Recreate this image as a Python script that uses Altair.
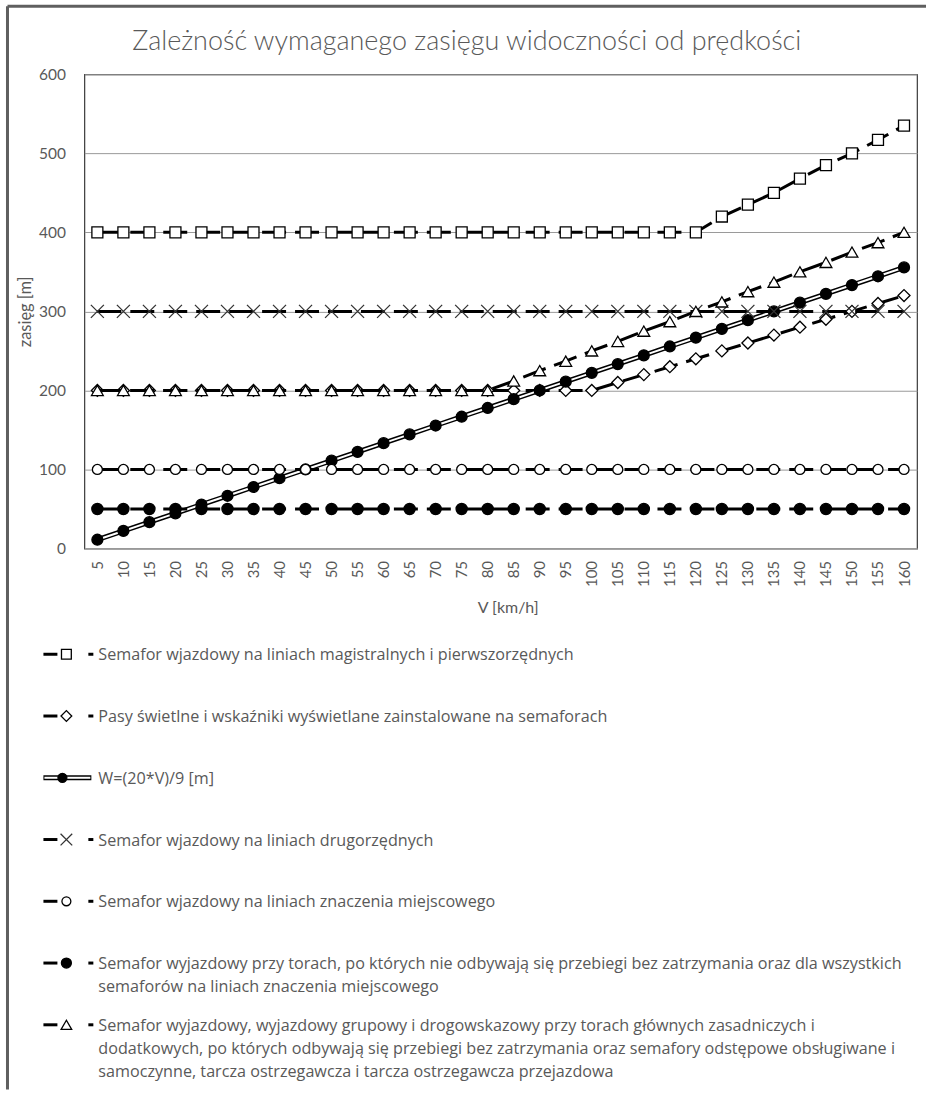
import altair as alt
import pandas as pd

TITLE = "Zależność wymaganego zasięgu widoczności od prędkości"
X_TITLE = "V [km/h]"
Y_TITLE = "zasięg [m]"
Y_TICKS = [0, 100, 200, 300, 400, 500, 600]

V = [5, 10, 15, 20, 25, 30, 35, 40, 45, 50, 55, 60, 65, 70, 75, 80,
     85, 90, 95, 100, 105, 110, 115, 120, 125, 130, 135, 140, 145, 150, 155, 160]

S_MAGISTRAL = [400, 400, 400, 400, 400, 400, 400, 400, 400, 400, 400, 400, 400, 400, 400, 400,
               400, 400, 400, 400, 400, 400, 400, 400, 420, 435, 450, 468, 485, 500, 517, 535]
S_PASY = [200, 200, 200, 200, 200, 200, 200, 200, 200, 200, 200, 200, 200, 200, 200, 200,
          200, 200, 200, 200, 210, 220, 230, 240, 250, 260, 270, 280, 290, 300, 310, 320]
S_W = [11.1, 22.2, 33.3, 44.4, 55.6, 66.7, 77.8, 88.9, 100.0, 111.1, 122.2, 133.3, 144.4, 155.6, 166.7, 177.8,
       188.9, 200.0, 211.1, 222.2, 233.3, 244.4, 255.6, 266.7, 277.8, 288.9, 300.0, 311.1, 322.2, 333.3, 344.4, 355.6]
S_DRUGORZ = [300, 300, 300, 300, 300, 300, 300, 300, 300, 300, 300, 300, 300, 300, 300, 300,
             300, 300, 300, 300, 300, 300, 300, 300, 300, 300, 300, 300, 300, 300, 300, 300]
S_MIEJSC = [100, 100, 100, 100, 100, 100, 100, 100, 100, 100, 100, 100, 100, 100, 100, 100,
            100, 100, 100, 100, 100, 100, 100, 100, 100, 100, 100, 100, 100, 100, 100, 100]
S_WYJAZD = [50, 50, 50, 50, 50, 50, 50, 50, 50, 50, 50, 50, 50, 50, 50, 50,
            50, 50, 50, 50, 50, 50, 50, 50, 50, 50, 50, 50, 50, 50, 50, 50]
S_ODSTEP = [200, 200, 200, 200, 200, 200, 200, 200, 200, 200, 200, 200, 200, 200, 200, 200,
            212, 225, 237, 250, 262, 275, 287, 300, 312, 325, 337, 350, 362, 375, 387, 400]

NAMES = [
    "Semafor wjazdowy na liniach magistralnych i pierwszorzędnych",
    "Pasy świetlne i wskaźniki wyświetlane zainstalowane na semaforach",
    "W=(20*V)/9 [m]",
    "Semafor wjazdowy na liniach drugorzędnych",
    "Semafor wjazdowy na liniach znaczenia miejscowego",
    "Semafor wyjazdowy przy torach, po których nie odbywają się przebiegi bez zatrzymania oraz dla wszystkich\nsemaforów na liniach znaczenia miejscowego",
    "Semafor wyjazdowy, wyjazdowy grupowy i drogowskazowy przy torach głównych zasadniczych i\ndodatkowych, po których odbywają się przebiegi bez zatrzymania oraz semafory odstępowe obsługiwane i\nsamoczynne, tarcza ostrzegawcza i tarcza ostrzegawcza przejazdowa",
]
SERIES = [S_MAGISTRAL, S_PASY, S_W, S_DRUGORZ, S_MIEJSC, S_WYJAZD, S_ODSTEP]

# styles (kept apart from data)
X_PATH = "M-1,-1L1,1M-1,1L1,-1"
SHAPES = ["square", "diamond", "circle", X_PATH, "circle", "circle", "triangle-up"]
FILLS = ["white", "white", "black", "white", "white", "black", "white"]
STROKES = ["black", "black", "black", "#333333", "black", "black", "black"]
SIZES = [121, 144, 120, 170, 100, 125, 140]
W_INDEX = 2
FONT = "Lato"
LFONT = "Open Sans"
TXT = "#595959"
BORDER = "#5f5f5f"

rows = []
for i, (name, vals) in enumerate(zip(NAMES, SERIES)):
    for v, y in zip(V, vals):
        rows.append({"V": v, "val": y, "sid": i})
df = pd.DataFrame(rows)

base = alt.Chart(df).encode(
    x=alt.X("V:O", scale=alt.Scale(type="point", padding=0.5),
            axis=alt.Axis(title=X_TITLE, labelAngle=-90, ticks=False, labelPadding=12,
                          labelFontSize=15, titleFontSize=16, titleFontWeight="normal",
                          labelColor=TXT, titleColor=TXT, domainColor="#b0b0b0",
                          titleX=424, titleY=59, titleBaseline="middle",
                          labelFont=FONT, titleFont=FONT)),
    y=alt.Y("val:Q", scale=alt.Scale(domain=[0, 600], nice=False),
            axis=alt.Axis(title=Y_TITLE, values=Y_TICKS, ticks=False, domain=False,
                          labelPadding=19, labelFontSize=15.5, titleFontSize=16.5,
                          titleFontWeight="normal", labelColor=TXT, titleColor=TXT,
                          gridColor="#9a9a9a", gridWidth=1, titlePadding=5,
                          labelFont=FONT, titleFont=FONT)),
)

layers = []
for i in range(len(NAMES)):
    sub = base.transform_filter(alt.datum.sid == i)
    if i == W_INDEX:
        layers.append(sub.mark_line(color="black", strokeWidth=5))
        layers.append(sub.mark_line(color="white", strokeWidth=2))
    else:
        layers.append(sub.mark_line(color="black", strokeWidth=3, strokeDash=[24, 9]))
    layers.append(sub.mark_point(shape=SHAPES[i], filled=True, fill=FILLS[i], stroke=STROKES[i],
                                 strokeWidth=1.3, size=SIZES[i], opacity=1))

main = alt.layer(*layers).properties(
    width=834, height=475,
    title=alt.TitleParams(TITLE, fontSize=27, font=FONT, fontWeight=300, color=TXT,
                          anchor="middle", dx=-34, offset=11),
    view=alt.ViewBackground(stroke="#3a3a3a", strokeWidth=1.2),
)

leg_df = pd.DataFrame({"idx": list(range(len(NAMES))), "label": NAMES})
lbase = alt.Chart(leg_df).encode(
    y=alt.Y("idx:Q", scale=alt.Scale(domain=[-0.5, len(NAMES) - 0.5], reverse=True, nice=False), axis=None)
)
llayers = []
for i in range(len(NAMES)):
    sub = lbase.transform_filter(alt.datum.idx == i)
    if i == W_INDEX:
        llayers.append(sub.mark_rule(color="black", strokeWidth=5).encode(x=alt.value(-41), x2=alt.value(7)))
        llayers.append(sub.mark_rule(color="white", strokeWidth=2).encode(x=alt.value(-40), x2=alt.value(6)))
        llayers.append(sub.mark_point(shape=SHAPES[i], filled=True, fill=FILLS[i], stroke=STROKES[i],
                                      strokeWidth=1.3, size=80, opacity=1).encode(x=alt.value(-22)))
    else:
        llayers.append(sub.mark_rule(color="black", strokeWidth=3).encode(x=alt.value(-41), x2=alt.value(-27)))
        llayers.append(sub.mark_rule(color="black", strokeWidth=3).encode(x=alt.value(4), x2=alt.value(9)))
        llayers.append(sub.mark_point(shape=SHAPES[i], filled=True, fill=FILLS[i], stroke=STROKES[i],
                                      strokeWidth=1.3, size=SIZES[i] * 0.8, opacity=1).encode(x=alt.value(-18)))
llayers.append(
    lbase.transform_calculate(lines="split(datum.label, '\\n')")
    .mark_text(align="left", baseline="top", dy=-7, fontSize=16.2, lineHeight=23, font=LFONT, color=TXT)
    .encode(x=alt.value(14), text="lines:N")
)

# chart-area frame (top and left edges, as in the reference); drawn in the legend panel
frame = alt.Chart(alt.Data(values=[{"f": 0}]))
llayers.append(frame.mark_rule(color=BORDER, strokeWidth=3).encode(
    x=alt.value(-77), x2=alt.value(843), y=alt.value(-618)))
llayers.append(frame.mark_rule(color=BORDER, strokeWidth=3).encode(
    x=alt.value(-77), y=alt.value(-618), y2=alt.value(467)))

legend = alt.layer(*llayers).properties(
    width=834, height=433, view=alt.ViewBackground(stroke="transparent")
)

chart = alt.vconcat(main, legend, spacing=75, bounds="flush").properties(
    padding={"left": 5.5, "top": 3.5, "right": 3, "bottom": 0}
).configure(font=FONT, background="white")

chart.save("out.html", embed_options={"renderer": "svg", "actions": False})
